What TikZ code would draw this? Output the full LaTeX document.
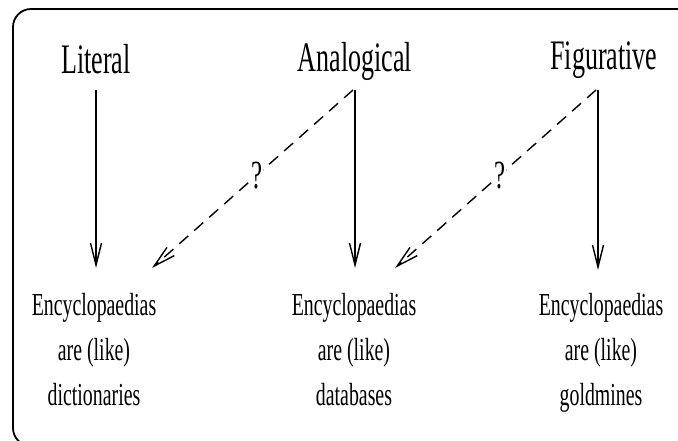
\documentclass[tikz,border=0pt]{standalone}
\usepackage{fontspec}
\setmainfont{Liberation Serif}[FakeStretch=0.62]
\usetikzlibrary{arrows.meta}
\begin{document}
\begin{tikzpicture}[x=1pt,y=-1pt,
  toplabel/.style={font=\fontsize{42}{44}\selectfont, anchor=base, inner sep=0pt},
  botlabel/.style={font=\fontsize{32}{45}\selectfont, align=center, anchor=north, inner sep=0pt},
  arr/.style={line width=1.4pt, -{Straight Barb[length=22pt,width=11pt,line width=1.4pt]}},
  darr/.style={arr, dash pattern=on 12pt off 8pt},
  qmark/.style={font=\fontsize{40}{42}\selectfont, fill=white, inner sep=1pt}
]
\useasboundingbox (0,0) rectangle (678,441);
\begin{scope}
  \clip (0,0) rectangle (678,441);
  \draw[line width=1.8pt, rounded corners=18pt] (690,9) -- (13,9) -- (13,446) -- (100,446);
\end{scope}

\node[toplabel] (lit) at (96,74) {Literal};
\node[toplabel] (ana) at (355,72) {Analogical};
\node[toplabel] (fig) at (604,70) {Figurative};

\node[botlabel] (d1) at (94,293) {Encyclopaedias\\are (like)\\dictionaries};
\node[botlabel] (d2) at (354,293) {Encyclopaedias\\are (like)\\databases};
\node[botlabel] (d3) at (601,293) {Encyclopaedias\\are (like)\\goldmines};

\coordinate (lt) at (96,90);
\coordinate (lb) at (96,268);
\coordinate (at) at (355,90);
\coordinate (ab) at (355,268);
\coordinate (ft) at (598,90);
\coordinate (fb) at (598,270);
\coordinate (dl) at (152,268);
\coordinate (dr) at (395,268);

\draw[arr] (lt) -- (lb);
\draw[arr] (at) -- (ab);
\draw[arr] (ft) -- (fb);
\draw[darr] ([xshift=-2pt]at) -- node[qmark, pos=0.48] (q1) {?} (dl);
\draw[darr] ([xshift=-2pt]ft) -- node[qmark, pos=0.48] (q2) {?} (dr);
\end{tikzpicture}
\end{document}
